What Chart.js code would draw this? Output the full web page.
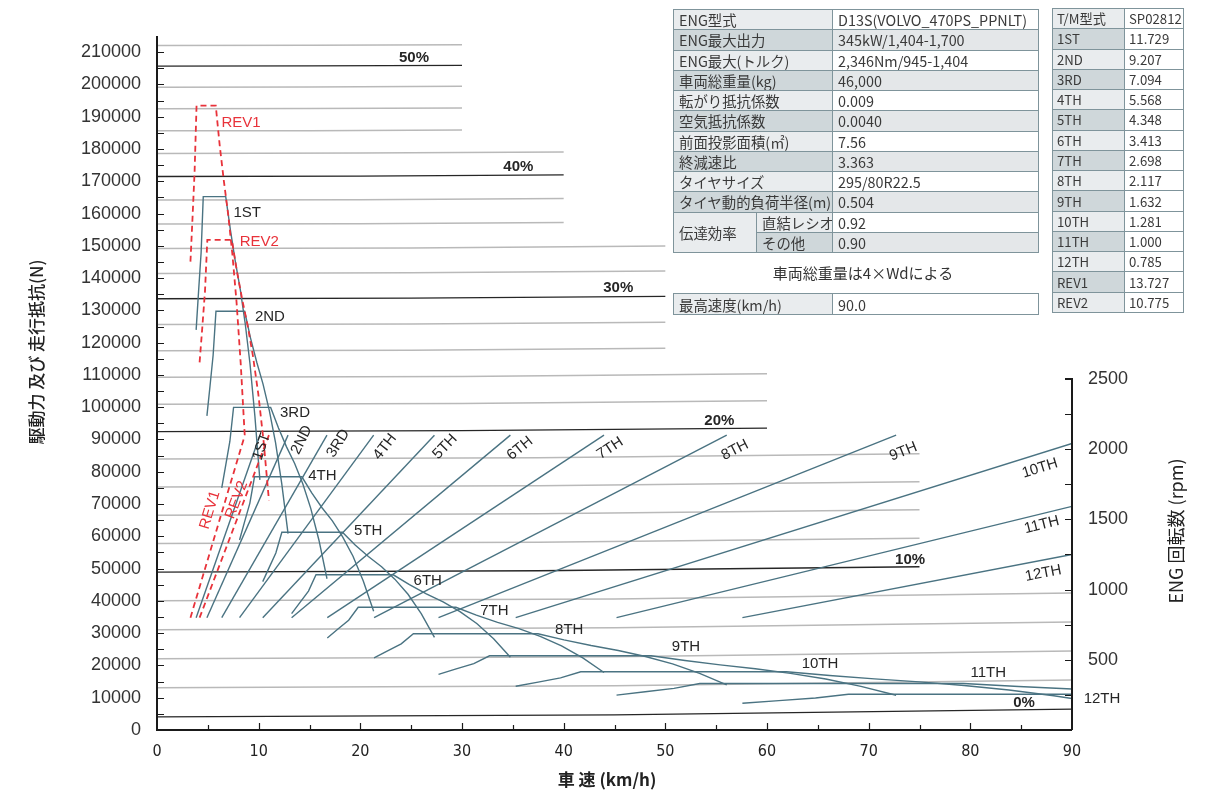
<!DOCTYPE html>
<html>
<head>
<meta charset="utf-8">
<script src="https://cdn.jsdelivr.net/npm/chart.js@4.4.1/dist/chart.umd.min.js"></script>
<style>
html,body{margin:0;padding:0;background:#fff;}
#wrap{position:relative;width:1226px;height:794px;overflow:hidden;background:#fff;}
#c{position:absolute;left:0;top:0;}
table.spec{position:absolute;border-collapse:collapse;table-layout:fixed;font-family:"Noto Sans CJK JP","Noto Sans",sans-serif;font-size:14.4px;color:#3a3a3a;}
table.spec td{border:1.5px solid #7f949b;padding:0 0 0 5px;line-height:15px;white-space:nowrap;overflow:hidden;}
table.tm{font-size:13.2px;}
table.tm td{padding-left:4px;}
.lt{background:#e9ecee;}
.dk{background:#cfd7da;}
.wh{background:#ffffff;}
.lg{background:#e4e7e9;}
#note{position:absolute;left:750px;top:262px;width:226px;text-align:center;font-family:"Noto Sans CJK JP",sans-serif;font-size:15px;color:#333;}
</style>
</head>
<body>
<div id="wrap">
<canvas id="c" width="1226" height="794"></canvas>

<table class="spec" style="left:673px;top:9px;width:365px;height:244px;">
<colgroup><col style="width:83px"><col style="width:76px"><col style="width:206px"></colgroup>
<tr><td colspan="2" class="lt">ENG型式</td><td class="wh">D13S(VOLVO_470PS_PPNLT)</td></tr>
<tr><td colspan="2" class="dk">ENG最大出力</td><td class="lg">345kW/1,404-1,700</td></tr>
<tr><td colspan="2" class="lt">ENG最大(トルク)</td><td class="wh">2,346Nm/945-1,404</td></tr>
<tr><td colspan="2" class="dk">車両総重量(kg)</td><td class="lg">46,000</td></tr>
<tr><td colspan="2" class="lt">転がり抵抗係数</td><td class="wh">0.009</td></tr>
<tr><td colspan="2" class="dk">空気抵抗係数</td><td class="lg">0.0040</td></tr>
<tr><td colspan="2" class="lt">前面投影面積(㎡)</td><td class="wh">7.56</td></tr>
<tr><td colspan="2" class="dk">終減速比</td><td class="lg">3.363</td></tr>
<tr><td colspan="2" class="lt">タイヤサイズ</td><td class="wh">295/80R22.5</td></tr>
<tr><td colspan="2" class="dk">タイヤ動的負荷半径(m)</td><td class="lg">0.504</td></tr>
<tr><td rowspan="2" class="lt">伝達効率</td><td class="lt">直結レシオ</td><td class="wh">0.92</td></tr>
<tr><td class="dk">その他</td><td class="lg">0.90</td></tr>
</table>

<div id="note">車両総重量は4×Wdによる</div>

<table class="spec" style="left:673px;top:293px;width:365px;height:22px;">
<colgroup><col style="width:159px"><col style="width:206px"></colgroup>
<tr><td class="lt">最高速度(km/h)</td><td class="wh">90.0</td></tr>
</table>

<table class="spec tm" style="left:1052px;top:8px;width:131px;height:305px;">
<colgroup><col style="width:72px"><col style="width:59px"></colgroup>
<tr><td class="lt">T/M型式</td><td class="wh">SP02812</td></tr>
<tr><td class="dk">1ST</td><td class="wh">11.729</td></tr>
<tr><td class="lt">2ND</td><td class="wh">9.207</td></tr>
<tr><td class="dk">3RD</td><td class="wh">7.094</td></tr>
<tr><td class="lt">4TH</td><td class="wh">5.568</td></tr>
<tr><td class="dk">5TH</td><td class="wh">4.348</td></tr>
<tr><td class="lt">6TH</td><td class="wh">3.413</td></tr>
<tr><td class="dk">7TH</td><td class="wh">2.698</td></tr>
<tr><td class="lt">8TH</td><td class="wh">2.117</td></tr>
<tr><td class="dk">9TH</td><td class="wh">1.632</td></tr>
<tr><td class="lt">10TH</td><td class="wh">1.281</td></tr>
<tr><td class="dk">11TH</td><td class="wh">1.000</td></tr>
<tr><td class="lt">12TH</td><td class="wh">0.785</td></tr>
<tr><td class="dk">REV1</td><td class="wh">13.727</td></tr>
<tr><td class="lt">REV2</td><td class="wh">10.775</td></tr>
</table>
</div>

<script>
// ---------------- DATA ----------------
// axis ticks
const xTicks = [0,10,20,30,40,50,60,70,80,90];
const yTicks = [0,10000,20000,30000,40000,50000,60000,70000,80000,90000,100000,110000,120000,130000,140000,150000,160000,170000,180000,190000,200000,210000];
const rpmTicks = [500,1000,1500,2000,2500];

// running resistance lines (grade %), force at 0 km/h, at half of end speed, at end speed
const gradePct    = [0,2,4,6,8,10,12,14,16,18,20,22,24,26,28,30,32,34,36,38,40,42,44,46,48,50,52];
const gradeEndKmh = [90,90,90,90,90,75,75,75,75,75,60,60,60,50,50,50,50,50,40,40,40,40,30,30,30,30,30];
const gradeF0   = [4057,13071,22075,31057,40006,48913,57768,66560,75279,83918,92466,100916,109262,117494,125606,133594,141450,149170,156751,164189,171480,178622,185612,192450,199133,205661,212035];
const gradeFmid = [4657,13671,22675,31657,40606,49330,58185,66977,75696,84335,92733,101183,109529,117679,125791,133779,141635,149355,156870,164308,171599,178741,185679,192517,199200,205728,212102];
const gradeFend = [6457,15471,24475,33457,42406,50580,59435,68227,76946,85585,93533,101983,110329,118235,126347,134335,142191,149911,157225,164663,171954,179096,185879,192717,199400,205928,212302];

// drive force curves: vehicle speed (km/h) and drive force (N)
const s1ST = [3.85,4.09,4.34,4.55,6.76,7.23,7.71,8.19,8.67,9.15,9.63,10.12];
const f1ST = [123970,135940,147920,165250,165250,154680,145030,136510,126080,113400,97200,77480];
const s2ND = [4.91,5.22,5.52,5.80,8.62,9.20,9.82,10.43,11.05,11.66,12.27,12.89];
const f2ND = [97310,106710,116110,129710,129710,121420,113840,107150,98970,89020,76300,60820];
const s3RD = [6.37,6.77,7.17,7.53,11.18,11.95,12.74,13.54,14.34,15.13,15.93,16.72];
const f3RD = [74980,82220,89460,99940,99940,93550,87720,82560,76260,68590,58790,46860];
const s4TH = [8.12,8.62,9.13,9.59,14.25,15.22,16.23,17.25,18.26,19.28,20.29,21.31];
const f4TH = [58850,64540,70220,78450,78450,73430,68850,64800,59850,53840,46140,36780];
const s5TH = [10.40,11.04,11.69,12.28,18.24,19.49,20.79,22.09,23.39,24.69,25.99,27.29];
const f5TH = [45960,50390,54830,61260,61260,57340,53760,50600,46740,42040,36030,28720];
const s6TH = [13.24,14.07,14.90,15.64,23.24,24.83,26.49,28.14,29.80,31.45,33.11,34.76];
const f6TH = [36070,39560,43040,48080,48080,45010,42200,39720,36690,33000,28280,22550];
const s7TH = [16.75,17.80,18.85,19.79,29.40,31.41,33.50,35.60,37.69,39.79,41.88,43.97];
const f7TH = [28520,31270,34020,38010,38010,35580,33360,31400,29000,26090,22360,17820];
const s8TH = [21.35,22.68,24.02,25.22,37.47,40.03,42.70,45.37,48.04,50.71,53.37,56.04];
const f8TH = [22380,24540,26700,29830,29830,27920,26180,24640,22760,20470,17540,13980];
const s9TH = [27.69,29.43,31.16,32.71,48.60,51.93,55.39,58.85,62.31,65.78,69.24,72.70];
const f9TH = [17250,18920,20580,22990,22990,21520,20180,18990,17540,15780,13530,10780];
const s10TH = [35.28,37.49,39.69,41.68,61.92,66.16,70.57,74.98,79.39,83.80,88.21,90];
const f10TH = [13540,14850,16160,18050,18050,16890,15840,14910,13770,12390,10620,9740];
const s11TH = [45.20,48.02,50.85,53.39,79.32,84.75,90];
const f11TH = [10810,11850,12890,14400,14400,13480,12700];
const s12TH = [57.58,61.17,64.77,68.01,90];
const f12TH = [8300,9100,9900,11060,11060];
const sREV1 = [3.29,3.50,3.70,3.89,5.78,6.17,6.59,7.00,7.41,7.82,8.23,8.64];
const fREV1 = [145090,159100,173120,193400,193400,181030,169740,159760,147560,132720,113760,90680];
const sREV2 = [4.19,4.46,4.72,4.95,7.36,7.86,8.39,8.91,9.44,9.96,10.49,11.01];
const fREV2 = [113890,124890,135890,151810,151810,142100,133230,125400,115830,104180,89300,71180];

// engine speed lines (rpm vs km/h), start and end of each gear line
const gearNames     = ['1ST','2ND','3RD','4TH','5TH','6TH','7TH','8TH','9TH','10TH','11TH','12TH','REV1','REV2'];
const rpmStartKmh   = [3.85,4.91,6.37,8.12,10.40,13.24,16.75,21.35,27.69,35.28,45.20,57.58,3.29,4.19];
const rpmEndKmh     = [10.12,12.89,16.72,21.31,27.29,34.76,43.97,56.04,72.70,90,90,90,8.64,11.01];
const rpmStart      = [800,800,800,800,800,800,800,800,800,800,800,800,800,800];
const rpmEnd        = [2100,2100,2100,2100,2100,2100,2100,2100,2100,2041,1593,1250,2100,2100];

// ---------------- STYLE ----------------
const TEAL = '#4a7382';
const RED = '#e8323a';
const INK = '#262626';
const GRAY = '#b9b9b9';

const gearSpeeds = [s1ST,s2ND,s3RD,s4TH,s5TH,s6TH,s7TH,s8TH,s9TH,s10TH,s11TH,s12TH,sREV1,sREV2];
const gearForces = [f1ST,f2ND,f3RD,f4TH,f5TH,f6TH,f7TH,f8TH,f9TH,f10TH,f11TH,f12TH,fREV1,fREV2];

const datasets = [];
gradePct.forEach((g,i)=>{
  const major = g % 10 === 0;
  datasets.push({
    label: g+'%', yAxisID:'y',
    data:[{x:0,y:gradeF0[i]},{x:gradeEndKmh[i]/2,y:gradeFmid[i]},{x:gradeEndKmh[i],y:gradeFend[i]}],
    borderColor: major ? INK : GRAY, borderWidth: major ? 1.3 : 1.5,
    order: major ? 3 : 4
  });
});
gearNames.forEach((n,i)=>{
  const rev = n.startsWith('REV');
  datasets.push({
    label:n, yAxisID:'y',
    data: gearSpeeds[i].map((s,j)=>({x:s,y:gearForces[i][j]})),
    borderColor: rev ? RED : TEAL, borderWidth: rev ? 1.8 : 1.4,
    borderDash: rev ? [6,4] : [], order: rev ? 0 : 1
  });
  datasets.push({
    label:n+' rpm', yAxisID:'y2',
    data:[{x:rpmStartKmh[i],y:rpmStart[i]},{x:rpmEndKmh[i],y:rpmEnd[i]}],
    borderColor: rev ? RED : TEAL, borderWidth: rev ? 1.8 : 1.4,
    borderDash: rev ? [6,4] : [], order: rev ? 0 : 2
  });
});

// text annotations: [text, km/h, N, angle(deg), color, bold]
const notes = [
  ['1ST', 8.88,160250,0,INK,0], ['REV1', 8.26,188140,0,RED,0], ['REV2',10.06,151270,0,RED,0],
  ['2ND',11.11,128040,0,INK,0], ['3RD',13.57,98110,0,INK,0], ['4TH',16.26,78690,0,INK,0],
  ['5TH',20.78,61650,0,INK,0], ['6TH',26.63,46250,0,INK,0], ['7TH',33.18,36960,0,INK,0],
  ['8TH',40.55,30980,0,INK,0], ['9TH',52.03,25620,0,INK,0], ['10TH',65.21,20450,0,INK,0],
  ['11TH',81.77,17750,0,INK,0], ['12TH',92.95,9600,0,INK,0],
  ['50%',25.28,208090,0,INK,1], ['40%',35.54,174510,0,INK,1], ['30%',45.37,136830,0,INK,1],
  ['20%',55.31,95820,0,INK,1], ['10%',74.07,52660,0,INK,1], ['0%',85.28,8270,0,INK,1],
  ['1ST',10.30,87760,-71,INK,0], ['2ND',14.23,89840,-64,INK,0], ['3RD',17.83,88820,-58,INK,0],
  ['4TH',22.43,87760,-52,INK,0], ['5TH',28.33,87760,-46,INK,0], ['6TH',35.70,87270,-39,INK,0],
  ['7TH',44.56,87270,-33,INK,0], ['8TH',56.85,86740,-27,INK,0], ['9TH',73.41,86210,-22,INK,0],
  ['10TH',86.85,81070,-17,INK,0], ['11TH',87.02,63510,-14,INK,0], ['12TH',87.18,48540,-11,INK,0],
  ['REV1',5.21,68150,-73,RED,0], ['REV2',7.84,71250,-69,RED,0]
];

const LATIN = '"Liberation Sans", Arial, Helvetica, sans-serif';
const plainNum = v => String(v);

const overlay = {
  id:'overlay',
  afterDraw(chart){
    const c = chart.ctx, a = chart.chartArea;
    const sx = chart.scales.x, sy = chart.scales.y, sr = chart.scales.y2;
    c.save();
    c.strokeStyle = '#1a1a1a'; c.lineWidth = 2;
    // axis lines
    c.beginPath();
    c.moveTo(a.left, a.top); c.lineTo(a.left, a.bottom); c.lineTo(a.right, a.bottom);
    c.moveTo(a.right - 7, sr.getPixelForValue(2500)); c.lineTo(a.right, sr.getPixelForValue(2500)); c.lineTo(a.right, a.bottom);
    c.stroke();
    // inward tick marks
    c.lineWidth = 1.2;
    c.beginPath();
    for (let v = 0; v <= 210000; v += 5000) { const p = Math.round(sy.getPixelForValue(v)) + 0.5; c.moveTo(a.left, p); c.lineTo(a.left + 7, p); }
    for (let v = 5; v <= 85; v += 5) { const p = Math.round(sx.getPixelForValue(v)) + 0.5; c.moveTo(p, a.bottom); c.lineTo(p, a.bottom - (v % 10 === 0 ? 7 : 5)); }
    for (let v = 250; v < 2500; v += 250) { const p = Math.round(sr.getPixelForValue(v)) + 0.5; c.moveTo(a.right, p); c.lineTo(a.right - 7, p); }
    c.stroke();
    // text annotations
    c.textAlign = 'center'; c.textBaseline = 'middle';
    notes.forEach(n => {
      const px = sx.getPixelForValue(n[1]), py = sy.getPixelForValue(n[2]);
      c.save(); c.translate(px, py); if (n[3]) c.rotate(n[3] * Math.PI / 180);
      c.fillStyle = n[4];
      c.font = (n[5] ? 'bold ' : '') + '15px ' + LATIN;
      c.fillText(n[0], 0, 0); c.restore();
    });
    // axis titles
    c.fillStyle = '#222';
    c.save(); c.translate(37, 352); c.rotate(-Math.PI/2);
    c.font = '500 17px "Noto Sans CJK JP", sans-serif'; c.fillText('駆動力 及び 走行抵抗(N)', 0, 0); c.restore();
    c.save(); c.translate(1176, 531); c.rotate(-Math.PI/2);
    c.font = '18px "Noto Sans CJK JP", sans-serif'; c.fillText('ENG 回転数 (rpm)', 0, 0); c.restore();
    c.font = '600 17px "Noto Sans CJK JP", sans-serif';
    c.fillText('車 速 (km/h)', 607, 780);
    c.restore();
  }
};

new Chart(document.getElementById('c'), {
  type:'line',
  data:{datasets},
  options:{
    responsive:false, animation:false, devicePixelRatio:1,
    layout:{padding:{top:36,left:0,right:0,bottom:0}},
    plugins:{legend:{display:false}, tooltip:{enabled:false}},
    elements:{point:{radius:0}, line:{tension:0, fill:false}},
    scales:{
      x:{type:'linear', min:0, max:90, grid:{display:false, drawTicks:false}, border:{display:false},
         afterFit(s){ s.height = 64; },
         afterBuildTicks(s){ s.ticks = xTicks.map(v=>({value:v})); },
         ticks:{autoSkip:false, maxRotation:0, padding:12, color:'#222', callback:plainNum,
                font:{family:'"DejaVu Sans Condensed","Liberation Sans Narrow",sans-serif', size:16}}},
      y:{type:'linear', position:'left', min:0, max:215000, grid:{display:false, drawTicks:false}, border:{display:false},
         afterFit(s){ s.width = 157; },
         afterBuildTicks(s){ s.ticks = yTicks.map(v=>({value:v})); },
         ticks:{autoSkip:false, padding:16, color:'#333', callback:plainNum, font:{family:LATIN, size:18}}},
      y2:{type:'linear', position:'right', min:0, max:4943, grid:{display:false, drawTicks:false}, border:{display:false},
         afterFit(s){ s.width = 154; },
         afterBuildTicks(s){ s.ticks = rpmTicks.map(v=>({value:v})); },
         ticks:{autoSkip:false, padding:16, color:'#333', callback:plainNum, font:{family:LATIN, size:18}}}
    }
  },
  plugins:[overlay]
});
</script>
</body>
</html>
